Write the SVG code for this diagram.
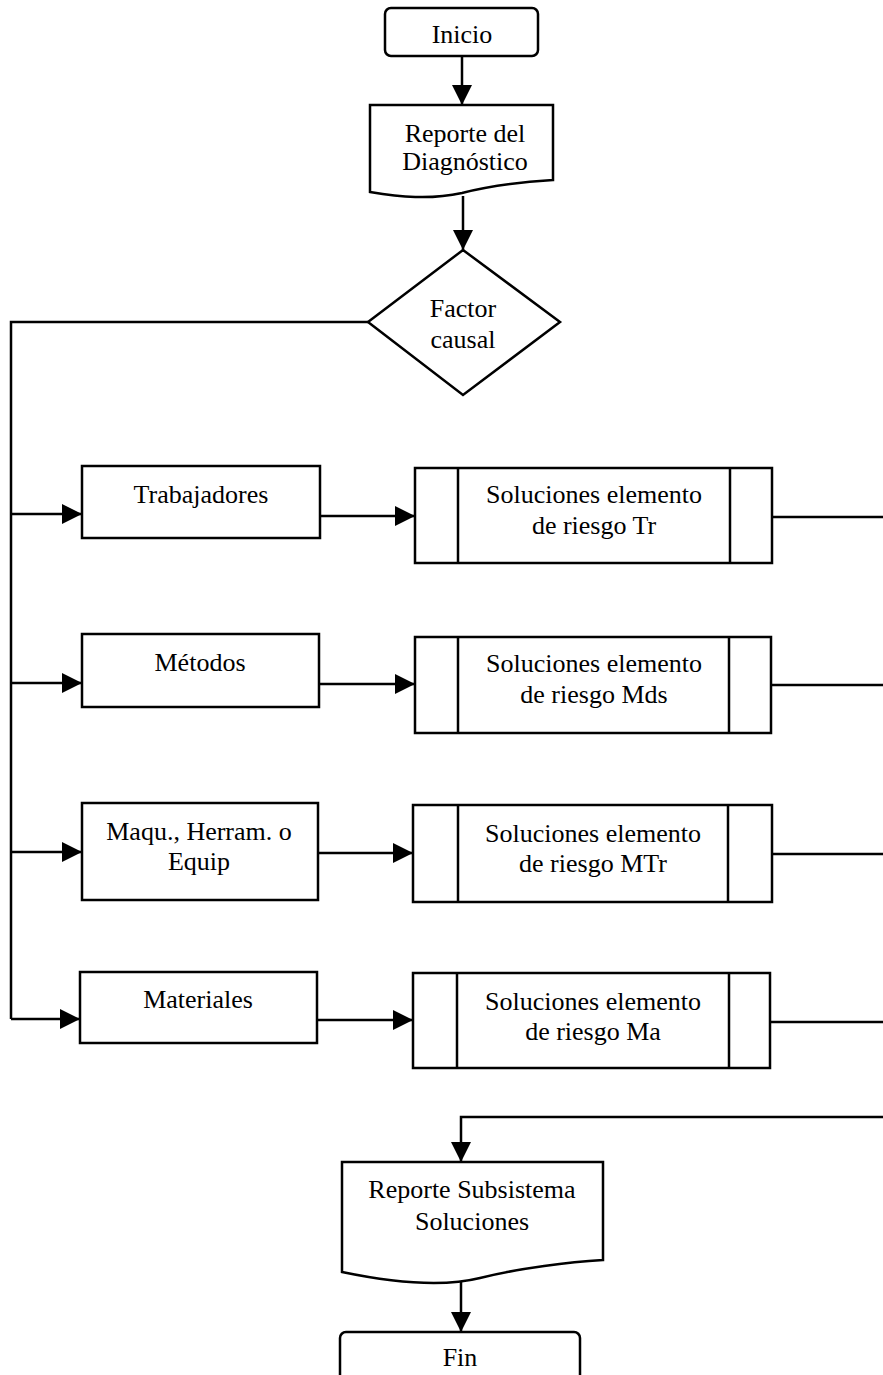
<svg xmlns="http://www.w3.org/2000/svg" width="883" height="1375" viewBox="0 0 883 1375">
  <style>
    .shape { fill: #ffffff; stroke: #000000; stroke-width: 2.5; }
    .sep { fill: none; stroke: #000000; stroke-width: 2.5; }
    .wire { fill: none; stroke: #000000; stroke-width: 2.5; }
    .arrow { fill: none; stroke: #000000; stroke-width: 2.5; marker-end: url(#head); }
    text { font-family: "Liberation Serif", "Times New Roman", serif; font-size: 26px; fill: #000000; text-anchor: middle; }
  </style>
  <defs>
    <marker id="head" markerUnits="userSpaceOnUse" markerWidth="22" markerHeight="22" refX="20" refY="10" orient="auto">
      <path d="M0,0 L20,10 L0,20 Z" fill="#000000"/>
    </marker>
  </defs>

  <rect width="883" height="1375" fill="#ffffff"/>

  <!-- connectors -->
  <g id="connectors">
    <line class="arrow" x1="462" y1="56" x2="462" y2="105"/>
    <line class="arrow" x1="463" y1="196" x2="463" y2="250"/>
    <!-- branch bus from the decision -->
    <polyline class="wire" points="368,322 11,322 11,1019"/>
    <line class="arrow" x1="11" y1="514" x2="82" y2="514"/>
    <line class="arrow" x1="11" y1="683" x2="82" y2="683"/>
    <line class="arrow" x1="11" y1="852" x2="82" y2="852"/>
    <line class="arrow" x1="11" y1="1019" x2="80" y2="1019"/>
    <!-- factor to solution -->
    <line class="arrow" x1="320" y1="516" x2="415" y2="516"/>
    <line class="arrow" x1="319" y1="684" x2="415" y2="684"/>
    <line class="arrow" x1="318" y1="853" x2="413" y2="853"/>
    <line class="arrow" x1="317" y1="1020" x2="413" y2="1020"/>
    <!-- solution outputs to the right edge -->
    <line class="wire" x1="772" y1="517" x2="883" y2="517"/>
    <line class="wire" x1="771" y1="685" x2="883" y2="685"/>
    <line class="wire" x1="772" y1="854" x2="883" y2="854"/>
    <line class="wire" x1="770" y1="1022" x2="883" y2="1022"/>
    <!-- return into the report -->
    <polyline class="arrow" points="883,1117 461,1117 461,1162"/>
    <line class="arrow" x1="461" y1="1282" x2="461" y2="1332"/>
  </g>

  <g id="inicio">
    <rect class="shape" x="385" y="8" width="153" height="48" rx="6"/>
    <text x="462" y="43">Inicio</text>
  </g>

  <g id="reporte-diagnostico">
    <path class="shape" d="M370,105 H553 V180 C520,182 490,186 462,193 C430,200 400,197 370,192 Z"/>
    <text x="465" y="142">Reporte del</text>
    <text x="465" y="170">Diagnóstico</text>
  </g>

  <g id="factor-causal">
    <polygon class="shape" points="463,250 560,322 463,395 368,322"/>
    <text x="463" y="317">Factor</text>
    <text x="463" y="348">causal</text>
  </g>

  <g id="trabajadores">
    <rect class="shape" x="82" y="466" width="238" height="72"/>
    <text x="201" y="503">Trabajadores</text>
  </g>
  <g id="sol-tr">
    <rect class="shape" x="415" y="468" width="357" height="95"/>
    <line class="sep" x1="458" y1="468" x2="458" y2="563"/>
    <line class="sep" x1="730" y1="468" x2="730" y2="563"/>
    <text x="594" y="503">Soluciones elemento</text>
    <text x="594" y="534">de riesgo Tr</text>
  </g>

  <g id="metodos">
    <rect class="shape" x="82" y="634" width="237" height="73"/>
    <text x="200" y="671">Métodos</text>
  </g>
  <g id="sol-mds">
    <rect class="shape" x="415" y="637" width="356" height="96"/>
    <line class="sep" x1="458" y1="637" x2="458" y2="733"/>
    <line class="sep" x1="729" y1="637" x2="729" y2="733"/>
    <text x="594" y="672">Soluciones elemento</text>
    <text x="594" y="703">de riesgo Mds</text>
  </g>

  <g id="maquinaria">
    <rect class="shape" x="82" y="803" width="236" height="97"/>
    <text x="199" y="840">Maqu., Herram. o</text>
    <text x="199" y="870">Equip</text>
  </g>
  <g id="sol-mtr">
    <rect class="shape" x="413" y="805" width="359" height="97"/>
    <line class="sep" x1="458" y1="805" x2="458" y2="902"/>
    <line class="sep" x1="728" y1="805" x2="728" y2="902"/>
    <text x="593" y="842">Soluciones elemento</text>
    <text x="593" y="872">de riesgo MTr</text>
  </g>

  <g id="materiales">
    <rect class="shape" x="80" y="972" width="237" height="71"/>
    <text x="198" y="1008">Materiales</text>
  </g>
  <g id="sol-ma">
    <rect class="shape" x="413" y="973" width="357" height="95"/>
    <line class="sep" x1="457" y1="973" x2="457" y2="1068"/>
    <line class="sep" x1="729" y1="973" x2="729" y2="1068"/>
    <text x="593" y="1010">Soluciones elemento</text>
    <text x="593" y="1040">de riesgo Ma</text>
  </g>

  <g id="reporte-subsistema">
    <path class="shape" d="M342,1162 H603 V1260 C570,1262 520,1268 480,1278 C440,1288 390,1282 342,1272 Z"/>
    <text x="472" y="1198">Reporte Subsistema</text>
    <text x="472" y="1230">Soluciones</text>
  </g>

  <g id="fin">
    <rect class="shape" x="340" y="1332" width="240" height="60" rx="6"/>
    <text x="460" y="1366">Fin</text>
  </g>
</svg>
